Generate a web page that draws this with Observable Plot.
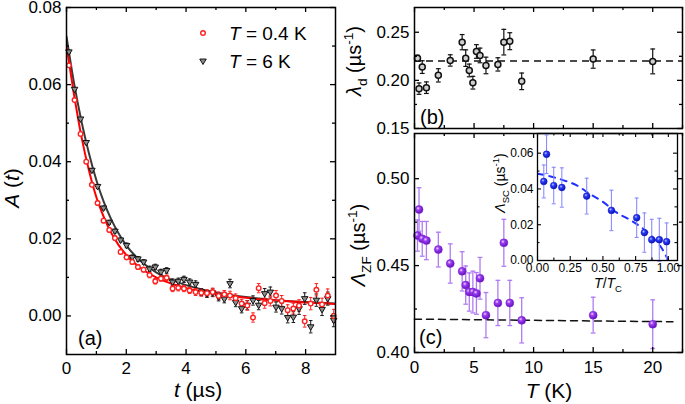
<!DOCTYPE html>
<html><head><meta charset="utf-8">
<script src="https://cdn.jsdelivr.net/npm/d3@7"></script>
<script src="https://cdn.jsdelivr.net/npm/@observablehq/plot@0.6"></script>
<style>
html,body{margin:0;padding:0;background:#fff;}
#wrap{position:relative;width:685px;height:404px;overflow:hidden;font-family:"Liberation Sans",Arial,sans-serif;}
#wrap > svg{position:absolute;left:0;top:0;}
</style></head><body>
<svg width="0" height="0" style="position:absolute"><defs>
<radialGradient id="gPurple" cx="0.38" cy="0.35" r="0.65">
<stop offset="0" stop-color="#ecd8ff"/><stop offset="0.35" stop-color="#9b3df0"/><stop offset="1" stop-color="#6410bd"/>
</radialGradient>
<radialGradient id="gBlue" cx="0.38" cy="0.35" r="0.65">
<stop offset="0" stop-color="#c4caff"/><stop offset="0.35" stop-color="#2b3bff"/><stop offset="1" stop-color="#0a12b0"/>
</radialGradient>
</defs></svg>
<div id="wrap"></div>
<script>
const FONT = '"Liberation Sans", Arial, sans-serif';

// ---------- panel (a): A(t) ----------
const tA = [0.08,0.27,0.47,0.66,0.85,1.04,1.24,1.43,1.62,1.81,2.01,2.20,2.39,2.58,2.78,2.97,3.16,3.35,3.55,3.74,3.93,4.12,4.32,4.51,4.70,4.89,5.09,5.28,5.47,5.66,5.86,6.05,6.24,6.43,6.63,6.82,7.01,7.20,7.40,7.59,7.78,7.97,8.17,8.36,8.55,8.74,8.94];
const A_04K = [0.0650,0.0560,0.0472,0.0400,0.0340,0.0293,0.0247,0.0223,0.0202,0.0166,0.0152,0.0140,0.0127,0.0120,0.0106,0.0090,0.0097,0.0099,0.0071,0.0073,0.0071,0.0066,0.0062,0.0060,0.0059,0.0062,0.0052,0.0056,0.0053,0.0046,0.0032,0.0027,-0.0004,0.0072,0.0033,0.0039,0.0053,0.0039,0.0015,0.0019,0.0027,-0.0014,0.0032,0.0068,0.0030,0.0053,0.0000];
const A_04K_err = [0.0004,0.0004,0.0004,0.0004,0.0004,0.0005,0.0005,0.0005,0.0005,0.0005,0.0006,0.0006,0.0006,0.0006,0.0007,0.0007,0.0007,0.0007,0.0008,0.0008,0.0008,0.0008,0.0009,0.0009,0.0009,0.0010,0.0010,0.0010,0.0011,0.0011,0.0011,0.0012,0.0012,0.0012,0.0013,0.0013,0.0013,0.0014,0.0014,0.0014,0.0015,0.0015,0.0016,0.0016,0.0016,0.0017,0.0017];
const A_6K = [0.0685,0.0588,0.0511,0.0450,0.0378,0.0336,0.0280,0.0243,0.0220,0.0197,0.0183,0.0152,0.0148,0.0140,0.0122,0.0127,0.0114,0.0118,0.0088,0.0090,0.0095,0.0088,0.0082,0.0062,0.0057,0.0060,0.0049,0.0044,0.0084,0.0035,0.0019,0.0028,0.0040,0.0028,0.0058,0.0062,0.0023,0.0019,-0.0004,-0.0003,0.0019,0.0045,-0.0028,0.0041,0.0017,0.0045,-0.0011];
const A_6K_err = [0.0004,0.0004,0.0004,0.0004,0.0004,0.0005,0.0005,0.0005,0.0005,0.0005,0.0006,0.0006,0.0006,0.0006,0.0007,0.0007,0.0007,0.0007,0.0008,0.0008,0.0008,0.0008,0.0009,0.0009,0.0009,0.0010,0.0010,0.0010,0.0011,0.0011,0.0011,0.0012,0.0012,0.0012,0.0013,0.0013,0.0013,0.0014,0.0014,0.0014,0.0015,0.0015,0.0016,0.0016,0.0016,0.0017,0.0017];
const fitT = [0,0.25,0.5,0.75,1.0,1.25,1.5,1.75,2.0,2.5,3.0,3.5,4.0,5.0,6.0,7.0,8.0,9.0];
const fit_04K = [0.0700,0.0575,0.0465,0.0378,0.0308,0.0256,0.0215,0.0183,0.0158,0.0123,0.0100,0.0084,0.0072,0.0057,0.0047,0.0040,0.0035,0.0031];
const fit_6K = [0.0725,0.0605,0.0505,0.0422,0.0352,0.0295,0.0250,0.0213,0.0183,0.0141,0.0113,0.0094,0.0080,0.0061,0.0049,0.0041,0.0036,0.0032];
const xTicksA = [0,2,4,6,8], xMinorA = [1,3,5,7];
const yTicksA = [0,0.02,0.04,0.06,0.08], yMinorA = [0.01,0.03,0.05,0.07];

// ---------- panels (b),(c): vs T ----------
const T_K = [0.25,0.38,0.65,1.0,2.0,3.0,4.0,4.3,4.6,4.9,5.2,5.5,6.0,7.0,7.5,8.0,9.0,15.0,20.0];
const lambdaD = [0.2231,0.1914,0.2138,0.1924,0.2052,0.2207,0.2397,0.2231,0.2103,0.1976,0.2300,0.2259,0.2155,0.2166,0.2397,0.2407,0.1990,0.2221,0.2197];
const lambdaD_err = [0.003,0.0059,0.0066,0.006,0.0069,0.0059,0.0079,0.0086,0.0066,0.0066,0.0071,0.0076,0.0086,0.0069,0.0133,0.0088,0.0086,0.0095,0.0129];
const lambdaD_const = [0.22];
const LambdaZF = [0.4673,0.4823,0.4654,0.4644,0.4592,0.4512,0.4467,0.4388,0.4348,0.4348,0.4340,0.4427,0.4215,0.4285,0.4631,0.4285,0.4185,0.4215,0.4163];
const LambdaZF_err = [0.009,0.0125,0.010,0.011,0.010,0.0113,0.0113,0.011,0.011,0.012,0.012,0.012,0.013,0.013,0.0135,0.013,0.013,0.0103,0.014];
const zfLineT = [0, 21.7];
const zfLine = [0.4192, 0.4177];
const xTicksT = [0,5,10,15,20], xMinorT = [2.5,7.5,12.5,17.5,22.5];
const yTicksB = [0.15,0.20,0.25], yMinorB = [0.175,0.225];
const yTicksC = [0.40,0.45,0.50], yMinorC = [0.425,0.475];

// ---------- inset ----------
const tRed = [0.048,0.069,0.124,0.186,0.376,0.565,0.758,0.817,0.873,0.931,0.987];
const LambdaSC = [0.0442,0.0594,0.0419,0.0408,0.0360,0.0280,0.0239,0.0156,0.0116,0.0116,0.0105];
const LambdaSC_err = [0.0092,0.0108,0.0102,0.011,0.010,0.0113,0.011,0.011,0.0114,0.012,0.0105];
const scFitX = [0,0.1,0.2,0.3,0.4,0.5,0.6,0.7,0.8,0.9,0.95,1.0];
const scFitY = [0.0485,0.0470,0.0448,0.0420,0.0372,0.0328,0.0270,0.0230,0.0182,0.0115,0.0068,0.0];
const xTicksI = [0,0.25,0.5,0.75,1.0], xMinorI = [0.125,0.375,0.625,0.875];
const yTicksI = [0,0.02,0.04,0.06], yMinorI = [0.01,0.03,0.05];

const legendLabels = ["0.4 K", "6 K"];

// ---------- helpers ----------
const W = 685, H = 404;
const capSym = {draw(ctx, size){ const w = Math.sqrt(size/Math.PI); ctx.moveTo(-w,0); ctx.lineTo(w,0); }};
const downTri = {draw(ctx, size){ const r = Math.sqrt(size/Math.PI); ctx.moveTo(-r*1.25,-r*0.75); ctx.lineTo(r*1.25,-r*0.75); ctx.lineTo(0,r*1.35); ctx.closePath(); }};

function frameTicks(xMaj, xMin, yMaj, yMin, fw, fh, big, small, sw) {
  const o = {stroke: "black", strokeWidth: sw};
  const m = [];
  for (const [vals, len] of [[xMaj, big],[xMin, small]]) {
    m.push(Plot.tickX(vals, {x: d => d, insetTop: fh - len, ...o}));
    m.push(Plot.tickX(vals, {x: d => d, insetBottom: fh - len, ...o}));
  }
  for (const [vals, len] of [[yMaj, big],[yMin, small]]) {
    m.push(Plot.tickY(vals, {y: d => d, insetRight: fw - len, ...o}));
    m.push(Plot.tickY(vals, {y: d => d, insetLeft: fw - len, ...o}));
  }
  return m;
}
function errMarks(rows, x, color, capR, sw) {
  return [
    Plot.ruleX(rows, {x, y1: d => d.v - d.e, y2: d => d.v + d.e, stroke: color, strokeWidth: sw}),
    Plot.dot(rows, {x, y: d => d.v + d.e, symbol: capSym, r: capR, stroke: color, strokeWidth: sw, fill: "none"}),
    Plot.dot(rows, {x, y: d => d.v - d.e, symbol: capSym, r: capR, stroke: color, strokeWidth: sw, fill: "none"})
  ];
}
function richText(svg, {x, y, rotate = 0, size, anchor = "middle"}, parts) {
  const t = d3.select(svg).append("text")
    .attr("transform", `translate(${x},${y}) rotate(${rotate})`)
    .attr("text-anchor", anchor).attr("font-size", size)
    .attr("font-family", FONT).attr("fill", "black");
  let shift = 0;
  for (const p of parts) {
    const s = t.append("tspan").text(p.t);
    if (p.i) s.attr("font-style", "italic");
    const target = p.sub ? 0.28 : p.sup ? -0.42 : 0;
    const dy = (target - shift) * size;
    if (dy) s.attr("dy", dy.toFixed(2));
    shift = target;
    if (p.sub || p.sup) s.attr("font-size", (size * 0.68).toFixed(1));
  }
  return t;
}
const style = {fontFamily: FONT, background: "transparent", overflow: "visible"};
const wrap = document.getElementById("wrap");

// ---------- (a) ----------
const redRows = tA.map((t, i) => ({t, v: A_04K[i], e: A_04K_err[i]}));
const grayRows = tA.map((t, i) => ({t, v: A_6K[i], e: A_6K_err[i]}));
const fitRows = fitT.map((t, i) => ({t, r: fit_04K[i], g: fit_6K[i]}));
const fa = {l: 66, r: 335, t: 7, b: 354};
const pa = Plot.plot({
  width: W, height: H, style,
  marginLeft: fa.l, marginRight: W - fa.r, marginTop: fa.t, marginBottom: H - fa.b,
  x: {domain: [0, 9], label: null}, y: {domain: [-0.01, 0.08], label: null},
  marks: [
    Plot.line(fitRows, {x: "t", y: "g", stroke: "#3a3a3a", strokeWidth: 2, curve: "monotone-x", clip: true}),
    Plot.line(fitRows, {x: "t", y: "r", stroke: "#ff0000", strokeWidth: 2, curve: "monotone-x", clip: true}),
    ...errMarks(grayRows, "t", "#1a1a1a", 1.8, 1),
    ...errMarks(redRows, "t", "#ff2020", 1.8, 1),
    Plot.dot(grayRows, {x: "t", y: "v", symbol: downTri, r: 2.6, fill: "#8c8c8c", stroke: "#111", strokeWidth: 1}),
    Plot.dot(redRows, {x: "t", y: "v", r: 2.3, fill: "white", stroke: "#ff2020", strokeWidth: 1.4}),
    Plot.frame({stroke: "black", strokeWidth: 1.5}),
    ...frameTicks(xTicksA, xMinorA, yTicksA, yMinorA, fa.r - fa.l, fa.b - fa.t, 5, 3, 1.3),
    Plot.axisX(xTicksA, {tickSize: 0, tickPadding: 7, fontSize: 17, label: null, tickFormat: d => String(d)}),
    Plot.axisY(yTicksA, {tickSize: 0, tickPadding: 5, fontSize: 17, label: null, tickFormat: d3.format(".2f")})
  ]
});
wrap.appendChild(pa);
{
  const s = d3.select(pa);
  s.append("path").attr("transform", "translate(203,33)").attr("d", d3.symbol(d3.symbolCircle, Math.PI*2.3*2.3)())
    .attr("fill", "white").attr("stroke", "#ff2020").attr("stroke-width", 1.4);
  s.append("path").attr("transform", "translate(203,61)").attr("d", d3.symbol(downTri, Math.PI*2.6*2.6)())
    .attr("fill", "#8c8c8c").attr("stroke", "#111").attr("stroke-width", 1);
  richText(pa, {x: 229, y: 39.5, size: 19, anchor: "start"}, [{t: "T", i: true}, {t: " = " + legendLabels[0]}]);
  richText(pa, {x: 229, y: 67.5, size: 19, anchor: "start"}, [{t: "T", i: true}, {t: " = " + legendLabels[1]}]);
  richText(pa, {x: 78, y: 345, size: 20, anchor: "start"}, [{t: "(a)"}]);
  richText(pa, {x: 198, y: 397, size: 21}, [{t: "t", i: true}, {t: " (µs)"}]);
  richText(pa, {x: 19, y: 188, size: 21, rotate: -90}, [{t: "A", i: true}, {t: " ("}, {t: "t", i: true}, {t: ")"}]);
}

// ---------- (b) ----------
const bRows = T_K.map((T, i) => ({T, v: lambdaD[i], e: lambdaD_err[i]}));
const fb = {l: 414, r: 682, t: 7, b: 128};
const pb = Plot.plot({
  width: W, height: H, style,
  marginLeft: fb.l, marginRight: W - fb.r, marginTop: fb.t, marginBottom: H - fb.b,
  x: {domain: [0, 22.5], axis: null}, y: {domain: [0.15, 0.2757], label: null},
  marks: [
    Plot.ruleY(lambdaD_const, {stroke: "#111", strokeWidth: 1.5, strokeDasharray: "7,5"}),
    ...errMarks(bRows, "T", "#111", 2.4, 1.2),
    Plot.dot(bRows, {x: "T", y: "v", r: 3, fill: "#cfcfcf", stroke: "#111", strokeWidth: 1.5}),
    Plot.frame({stroke: "black", strokeWidth: 1.5}),
    ...frameTicks(xTicksT, xMinorT, yTicksB, yMinorB, fb.r - fb.l, fb.b - fb.t, 5, 3, 1.3),
    Plot.axisY(yTicksB, {tickSize: 0, tickPadding: 5, fontSize: 17, label: null, tickFormat: d3.format(".2f")})
  ]
});
wrap.appendChild(pb);
richText(pb, {x: 420, y: 124, size: 20, anchor: "start"}, [{t: "(b)"}]);
richText(pb, {x: 361, y: 61, size: 20, rotate: -90}, [{t: "λ", i: true}, {t: "d", sub: true}, {t: " (µs"}, {t: "-1", sup: true}, {t: ")"}]);

// ---------- (c) ----------
const cRows = T_K.map((T, i) => ({T, v: LambdaZF[i], e: LambdaZF_err[i]}));
const zfRows = zfLineT.map((T, i) => ({T, v: zfLine[i]}));
const fc = {l: 414, r: 682, t: 133, b: 352};
const pc = Plot.plot({
  width: W, height: H, style,
  marginLeft: fc.l, marginRight: W - fc.r, marginTop: fc.t, marginBottom: H - fc.b,
  x: {domain: [0, 22.5], label: null}, y: {domain: [0.40, 0.526], label: null},
  marks: [
    Plot.line(zfRows, {x: "T", y: "v", stroke: "#111", strokeWidth: 1.5, strokeDasharray: "7,5"}),
    ...errMarks(cRows, "T", "#b07cf2", 2.4, 1.3),
    Plot.dot(cRows, {x: "T", y: "v", r: 4, fill: "url(#gPurple)", stroke: "#7a22d0", strokeWidth: 0.5}),
    Plot.frame({stroke: "black", strokeWidth: 1.5}),
    ...frameTicks(xTicksT, xMinorT, yTicksC, yMinorC, fc.r - fc.l, fc.b - fc.t, 5, 3, 1.3),
    Plot.axisX(xTicksT, {tickSize: 0, tickPadding: 8, fontSize: 17, label: null, tickFormat: d => String(d)}),
    Plot.axisY(yTicksC, {tickSize: 0, tickPadding: 5, fontSize: 17, label: null, tickFormat: d3.format(".2f")})
  ]
});
wrap.appendChild(pc);
richText(pc, {x: 419, y: 344, size: 20, anchor: "start"}, [{t: "(c)"}]);
richText(pc, {x: 549, y: 398, size: 21}, [{t: "T", i: true}, {t: " (K)"}]);
richText(pc, {x: 365, y: 245, size: 20, rotate: -90}, [{t: "Λ", i: true}, {t: "ZF", sub: true}, {t: " (µs"}, {t: "-1", sup: true}, {t: ")"}]);

// ---------- inset ----------
const iRows = tRed.map((x, i) => ({x, v: LambdaSC[i], e: LambdaSC_err[i]}));
const sfRows = scFitX.map((x, i) => ({x, v: scFitY[i]}));
const fi = {l: 537, r: 677, t: 133, b: 260};
const pi = Plot.plot({
  width: W, height: H, style,
  marginLeft: fi.l, marginRight: W - fi.r, marginTop: fi.t, marginBottom: H - fi.b,
  x: {domain: [0, 1.07], label: null}, y: {domain: [0, 0.071], label: null},
  marks: [
    Plot.line(sfRows, {x: "x", y: "v", stroke: "#2030ff", strokeWidth: 2, strokeDasharray: "6,6", curve: "monotone-x", clip: true}),
    ...errMarks(iRows, "x", "#8a8cff", 2, 1.1),
    Plot.dot(iRows, {x: "x", y: "v", r: 3.4, fill: "url(#gBlue)", stroke: "#1018c0", strokeWidth: 0.5}),
    Plot.frame({stroke: "black", strokeWidth: 1.3}),
    ...frameTicks(xTicksI, xMinorI, yTicksI, yMinorI, fi.r - fi.l, fi.b - fi.t, 4, 2.5, 1.1),
    Plot.axisX(xTicksI, {tickSize: 0, tickPadding: 3, fontSize: 12, label: null, tickFormat: d3.format(".2f")}),
    Plot.axisY(yTicksI, {tickSize: 0, tickPadding: 4, fontSize: 12, label: null, tickFormat: d3.format(".2f")})
  ]
});
wrap.appendChild(pi);
richText(pi, {x: 608, y: 288, size: 14}, [{t: "T", i: true}, {t: "/"}, {t: "T", i: true}, {t: "C", sub: true}]);
richText(pi, {x: 505, y: 183, size: 14, rotate: -90}, [{t: "Λ", i: true}, {t: "SC", sub: true}, {t: " (µs"}, {t: "-1", sup: true}, {t: ")"}]);
</script></body></html>
